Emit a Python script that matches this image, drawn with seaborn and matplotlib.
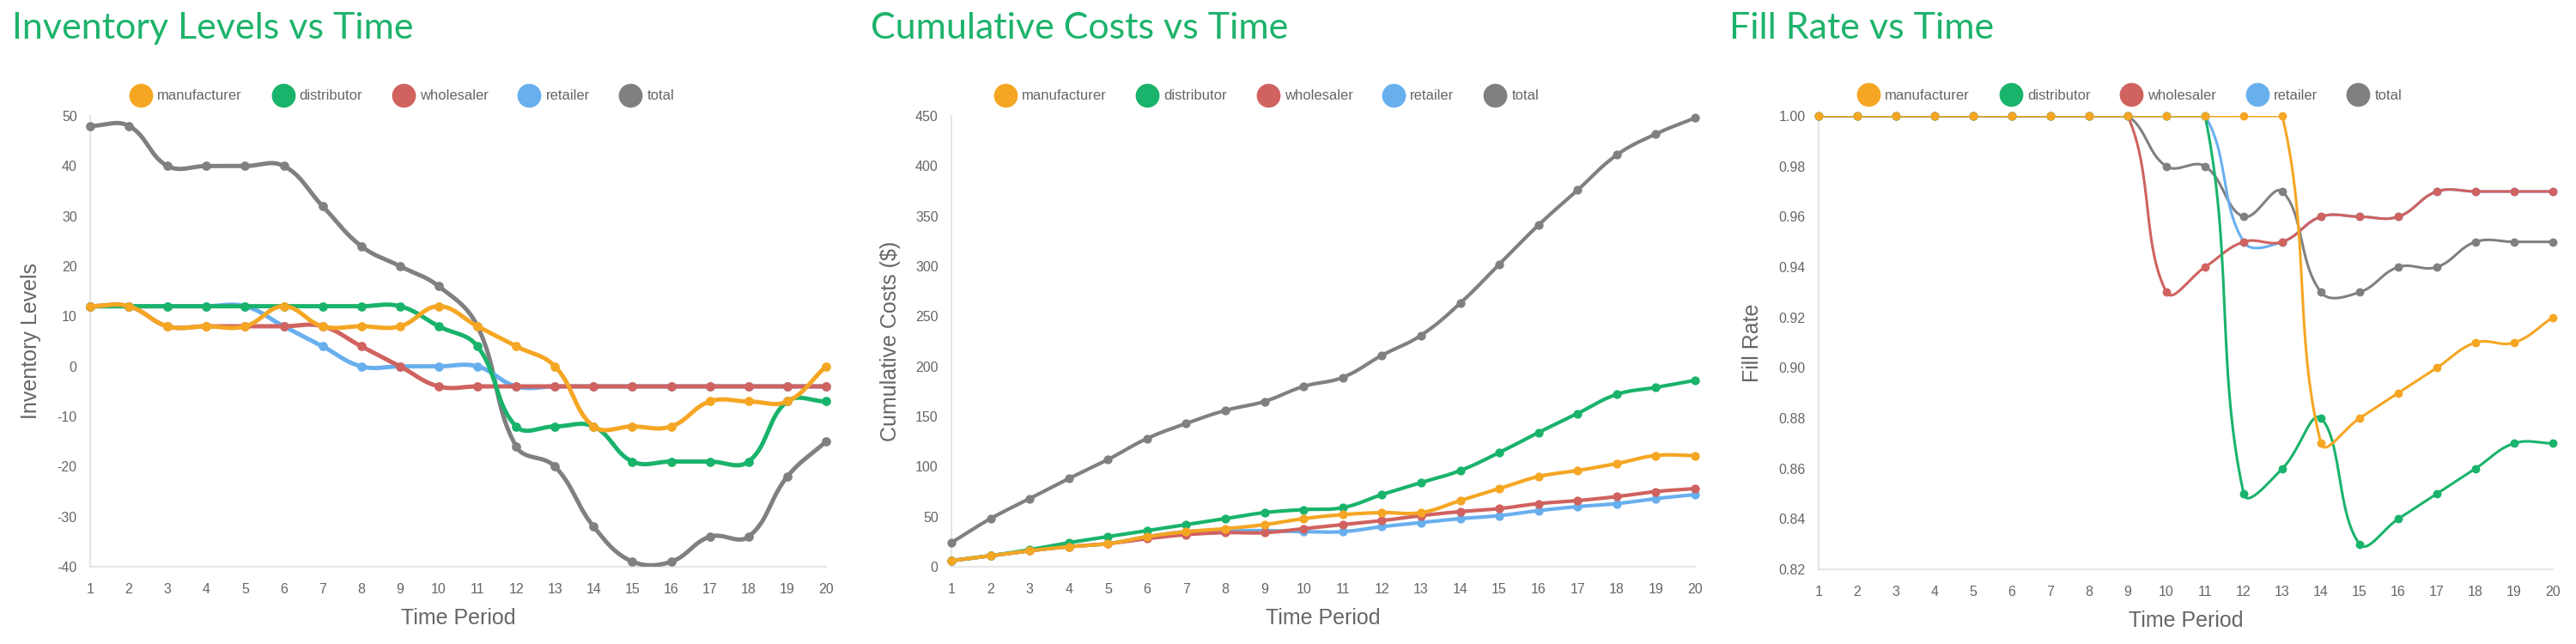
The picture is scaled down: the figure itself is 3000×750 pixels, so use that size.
import numpy as np
import pandas as pd
import matplotlib
matplotlib.use("Agg")
import matplotlib.pyplot as plt
from matplotlib.lines import Line2D
import seaborn as sns

# ---- data ----
periods = list(range(1, 21))
roles = ["manufacturer", "distributor", "wholesaler", "retailer", "total"]

inv_manufacturer = [12, 12, 8, 8, 8, 12, 8, 8, 8, 12, 8, 4, 0, -12, -12, -12, -7, -7, -7, 0]
inv_distributor = [12, 12, 12, 12, 12, 12, 12, 12, 12, 8, 4, -12, -12, -12, -19, -19, -19, -19, -7, -7]
inv_wholesaler = [12, 12, 8, 8, 8, 8, 8, 4, 0, -4, -4, -4, -4, -4, -4, -4, -4, -4, -4, -4]
inv_retailer = [12, 12, 12, 12, 12, 8, 4, 0, 0, 0, 0, -4, -4, -4, -4, -4, -4, -4, -4, -4]
inv_total = [48, 48, 40, 40, 40, 40, 32, 24, 20, 16, 8, -16, -20, -32, -39, -39, -34, -34, -22, -15]

cost_manufacturer = [6, 11, 16, 20, 23, 30, 35, 38, 42, 48, 52, 54, 54, 66, 78, 90, 96, 103, 111, 111]
cost_distributor = [6, 11, 17, 24, 30, 36, 42, 48, 54, 57, 59, 72, 84, 96, 114, 134, 153, 172, 179, 186]
cost_wholesaler = [6, 11, 16, 20, 23, 28, 32, 34, 34, 38, 42, 46, 51, 55, 58, 63, 66, 70, 75, 78]
cost_retailer = [6, 11, 16, 20, 23, 30, 35, 36, 36, 35, 35, 40, 44, 48, 51, 56, 60, 63, 68, 72]
cost_total = [24, 48, 68, 88, 107, 128, 143, 156, 165, 180, 189, 211, 231, 263, 302, 341, 376, 411, 432, 448]

fill_manufacturer = [1.0] * 13 + [0.87, 0.88, 0.89, 0.90, 0.91, 0.91, 0.92]
fill_distributor = [1.0] * 11 + [0.85, 0.86, 0.88, 0.83, 0.84, 0.85, 0.86, 0.87, 0.87]
fill_wholesaler = [1.0] * 9 + [0.93, 0.94, 0.95, 0.95, 0.96, 0.96, 0.96, 0.97, 0.97, 0.97, 0.97]
fill_retailer = [1.0] * 11 + [0.95, 0.95, 0.96, 0.96, 0.96, 0.97, 0.97, 0.97, 0.97]
fill_total = [1.0] * 9 + [0.98, 0.98, 0.96, 0.97, 0.93, 0.93, 0.94, 0.94, 0.95, 0.95, 0.95]

colors = {"manufacturer": "#F5A623", "distributor": "#19B36B", "wholesaler": "#D0625F",
          "retailer": "#68AFEE", "total": "#808080"}
TITLE_GREEN = "#1DB36B"
TEXT_GRAY = "#666666"

sns.set_theme(style="white")
plt.rcParams["font.family"] = ["Liberation Sans", "DejaVu Sans"]


def chartjs_spline(ax, xs, ys, tension=0.4, steps=30):
    """Chart.js style bezier smoothing, done in pixel space."""
    P = ax.transData.transform(np.column_stack([xs, ys]).astype(float))
    n = len(P)
    cprev, cnext = P.copy(), P.copy()
    bb = ax.bbox
    for i in range(n):
        prev = P[i - 1] if i > 0 else P[i]
        nxt = P[i + 1] if i < n - 1 else P[i]
        d01 = np.hypot(*(P[i] - prev))
        d12 = np.hypot(*(nxt - P[i]))
        tot = d01 + d12
        s01 = d01 / tot if tot else 0
        s12 = d12 / tot if tot else 0
        cprev[i] = P[i] - tension * s01 * (nxt - prev)
        cnext[i] = P[i] + tension * s12 * (nxt - prev)
    # keep control points inside the plot area
    for c in (cprev, cnext):
        c[:, 0] = np.clip(c[:, 0], bb.x0, bb.x1)
        c[:, 1] = np.clip(c[:, 1], bb.y0, bb.y1)
    t = np.linspace(0, 1, steps)[:, None]
    segs = []
    for i in range(n - 1):
        p0, p1, p2, p3 = P[i], cnext[i], cprev[i + 1], P[i + 1]
        seg = ((1 - t) ** 3) * p0 + 3 * ((1 - t) ** 2) * t * p1 + 3 * (1 - t) * t ** 2 * p2 + t ** 3 * p3
        segs.append(seg if i == 0 else seg[1:])
    curve = ax.transData.inverted().transform(np.vstack(segs))
    return curve[:, 0], curve[:, 1]


fig = plt.figure(figsize=(30, 7.5), dpi=100)

panels = [
    dict(title="Inventory Levels vs Time", ylabel="Inventory Levels",
         data=[inv_manufacturer, inv_distributor, inv_wholesaler, inv_retailer, inv_total],
         ylim=(-40, 50), yticks=np.arange(-40, 51, 10), fmt="{:.0f}",
         rect=[105 / 3000, 0.12, 857 / 3000, 0.7], lw=3.6, ms=60, ylab_x=-0.080, tx=14),
    dict(title="Cumulative Costs vs Time", ylabel="Cumulative Costs ($)",
         data=[cost_manufacturer, cost_distributor, cost_wholesaler, cost_retailer, cost_total],
         ylim=(0, 450), yticks=np.arange(0, 451, 50), fmt="{:.0f}",
         rect=[1108 / 3000, 0.12, 866 / 3000, 0.7], lw=3.0, ms=55, ylab_x=-0.082, tx=1014),
    dict(title="Fill Rate vs Time", ylabel="Fill Rate",
         data=[fill_manufacturer, fill_distributor, fill_wholesaler, fill_retailer, fill_total],
         ylim=(0.82, 1.0), yticks=np.round(np.arange(0.82, 1.001, 0.02), 2), fmt="{:.2f}",
         rect=[2118 / 3000, 0.116, 855 / 3000, 0.704], lw=2.2, ms=50, ylab_x=-0.09, tx=2014),
]

for p in panels:
    ax = fig.add_axes(p["rect"])
    ax.set_xlim(1, 20)
    ax.set_ylim(*p["ylim"])

    for k, (role, vals) in enumerate(zip(roles, p["data"])):
        z = 10 - k
        sx, sy = chartjs_spline(ax, periods, vals)
        sns.lineplot(x=sx, y=sy, ax=ax, color=colors[role], lw=p["lw"], sort=False,
                     estimator=None, zorder=z, legend=False)
        pts = pd.DataFrame({"period": periods, "value": vals})
        sns.scatterplot(data=pts, x="period", y="value", ax=ax, color=colors[role],
                        s=p["ms"], linewidth=0, zorder=z + 0.5, legend=False, clip_on=False)

    ax.set_xticks(periods)
    ax.set_xticklabels([str(v) for v in periods])
    ax.set_yticks(p["yticks"])
    ax.set_yticklabels([p["fmt"].format(v) for v in p["yticks"]])
    ax.tick_params(axis="both", length=0, labelsize=11.5, labelcolor=TEXT_GRAY)
    ax.tick_params(axis="x", pad=14)
    ax.tick_params(axis="y", pad=11)
    ax.grid(False)
    for side in ("top", "right"):
        ax.spines[side].set_visible(False)
    for side in ("left", "bottom"):
        ax.spines[side].set_color("#e6e6e6")
        ax.spines[side].set_linewidth(1.5)

    ax.set_xlabel("Time Period", fontsize=18, color=TEXT_GRAY)
    ax.xaxis.set_label_coords(0.5, -0.114)
    ax.xaxis.label.set_va("center")
    ax.set_ylabel(p["ylabel"], fontsize=18, color=TEXT_GRAY)
    ax.yaxis.set_label_coords(p["ylab_x"], 0.5)
    ax.yaxis.label.set_va("center")

    handles = [Line2D([], [], ls="none", marker="o", markersize=20, color=colors[r],
                      markeredgewidth=0) for r in roles]
    ax.legend(handles, roles, loc="center", bbox_to_anchor=(0.425, 1.044), ncol=5,
              frameon=False, fontsize=12, labelcolor=TEXT_GRAY, handlelength=1.3,
              handletextpad=0.5, columnspacing=2.2)

    fig.text(p["tx"] / 3000, 1 - 45 / 750, p["title"], fontsize=31, color=TITLE_GREEN,
             va="baseline", ha="left", family=["Lato", "DejaVu Sans"])

fig.savefig("out.png", dpi=100)
